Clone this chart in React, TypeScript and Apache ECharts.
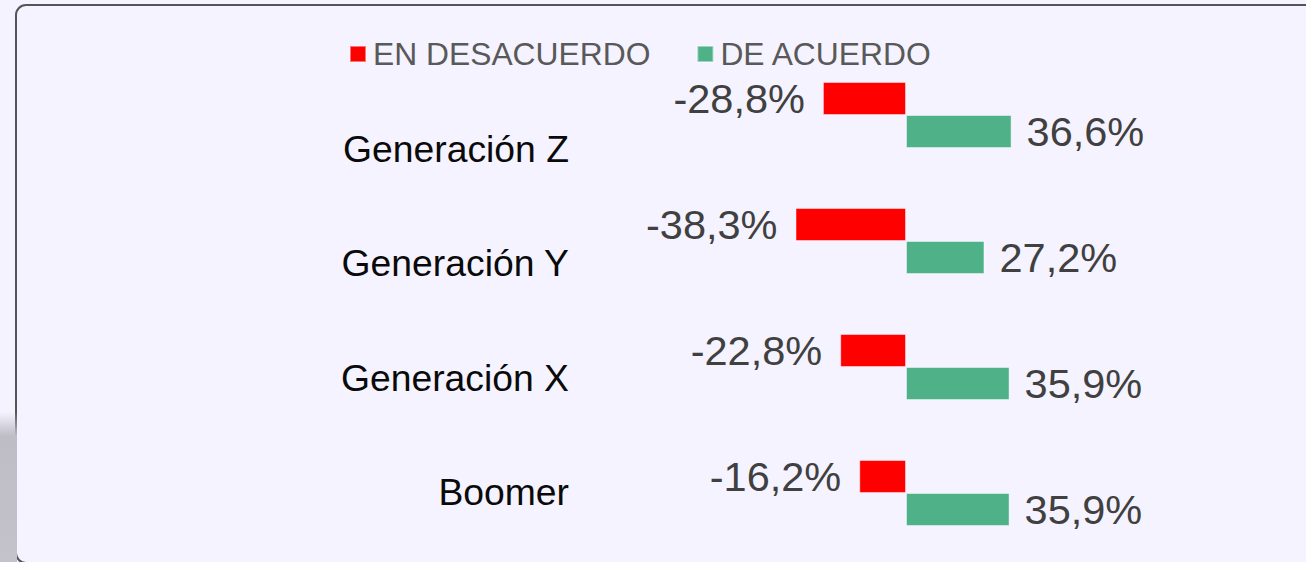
import React, { useEffect, useRef } from "react";
import * as echarts from "echarts";

const categories = ["Generación Z", "Generación Y", "Generación X", "Boomer"];
const desacuerdo = [-28.8, -38.3, -22.8, -16.2];
const deAcuerdo = [36.6, 27.2, 35.9, 35.9];
const seriesNames = ["EN DESACUERDO", "DE ACUERDO"];

const FONT = "'Liberation Sans', Arial, sans-serif";
const fmt = (v: number) => v.toFixed(1).replace(".", ",") + "%";

export default function App() {
  const ref = useRef<HTMLDivElement>(null);
  useEffect(() => {
    if (!ref.current) return;
    const chart = echarts.init(ref.current, null, { renderer: "svg" });
    chart.setOption({
      animation: false,
      backgroundColor: "#f5f3ff",
      textStyle: { fontFamily: FONT },
      graphic: [
        {
          type: "rect",
          silent: true,
          shape: { x: 0, y: 412, width: 17, height: 160 },
          style: {
            fill: new echarts.graphic.LinearGradient(0, 0, 0, 1, [
              { offset: 0, color: "rgba(190,189,198,0)" },
              { offset: 0.15, color: "rgba(190,189,198,1)" },
              { offset: 1, color: "rgba(196,195,204,1)" },
            ]),
          },
        },
        {
          type: "rect",
          silent: true,
          shape: { x: 16, y: 5, width: 1340, height: 558, r: 10 },
          style: { fill: "#f5f3ff", stroke: "#555555", lineWidth: 2 },
          z: -1,
        },
      ],
      legend: {
        left: 349,
        top: 38,
        padding: 0,
        itemWidth: 16,
        itemHeight: 16,
        itemGap: 46,
        icon: "rect",
        data: seriesNames,
        textStyle: {
          color: "#595959",
          fontSize: 31.8,
          lineHeight: 32,
          fontFamily: FONT,
          padding: [0, 0, 0, 2],
        },
      },
      grid: [
        { left: 617.5, right: 111.5, top: 52, bottom: 6 },
        { left: 569, right: 600, top: 91.3, bottom: 12.3 },
      ],
      xAxis: [
        { type: "value", gridIndex: 0, min: -100, max: 100, show: false },
        { type: "value", gridIndex: 1, min: 0, max: 1, show: false },
      ],
      yAxis: [
        {
          type: "category",
          gridIndex: 0,
          data: categories,
          inverse: true,
          axisLine: { show: false },
          axisTick: { show: false },
          axisLabel: { show: false },
        },
        {
          type: "category",
          gridIndex: 1,
          data: categories,
          inverse: true,
          axisLine: { show: false },
          axisTick: { show: false },
          axisLabel: {
            margin: 0,
            color: "#0a0a0a",
            fontSize: 37.3,
            fontFamily: FONT,
            align: "right",
          },
        },
      ],
      series: [
        {
          name: seriesNames[0],
          type: "bar",
          xAxisIndex: 0,
          yAxisIndex: 0,
          data: desacuerdo,
          barWidth: 33,
          barGap: "0%",
          itemStyle: {
            color: "#ff0000",
            borderColor: "rgba(255,255,255,0.45)",
            borderWidth: 1,
          },
          label: {
            show: true,
            position: "left",
            distance: 18,
            color: "#404040",
            fontSize: 41.5,
            fontFamily: FONT,
            formatter: (p: any) => fmt(p.value),
          },
        },
        {
          name: seriesNames[1],
          type: "bar",
          xAxisIndex: 0,
          yAxisIndex: 0,
          data: deAcuerdo,
          barWidth: 33,
          barGap: "0%",
          itemStyle: {
            color: "#4fb187",
            borderColor: "rgba(255,255,255,0.45)",
            borderWidth: 1,
          },
          label: {
            show: true,
            position: "right",
            distance: 15,
            color: "#404040",
            fontSize: 41.5,
            fontFamily: FONT,
            formatter: (p: any) => fmt(p.value),
          },
        },
      ],
    });
    return () => chart.dispose();
  }, []);
  return (
    <div
      ref={ref}
      style={{ position: "absolute", left: 0, top: 0, width: 1306, height: 562 }}
    />
  );
}
